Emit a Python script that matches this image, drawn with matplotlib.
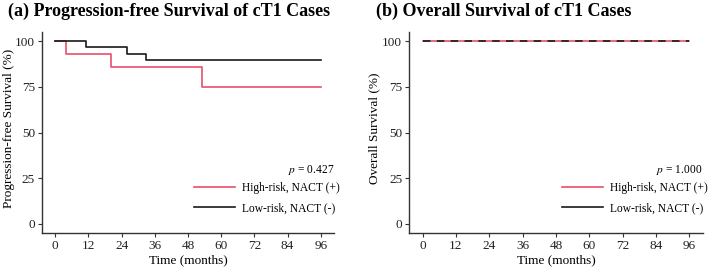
import matplotlib
matplotlib.use("Agg")
import matplotlib.pyplot as plt

# =========================
# DANE
# =========================
pfs_high_t = [0, 4, 20, 53, 96]
pfs_high_s = [100, 92.9, 85.7, 75.0, 75.0]
pfs_low_t = [0, 11, 26, 33, 96]
pfs_low_s = [100, 96.6, 93.1, 89.7, 89.7]

os_high_t = [0, 96]
os_high_s = [100, 100]
os_low_t = [0, 96]
os_low_s = [100, 100]

x_ticks = [0, 12, 24, 36, 48, 60, 72, 84, 96]
y_ticks = [0, 25, 50, 75, 100]

labels = ["High-risk, NACT (+)", "Low-risk, NACT (-)"]
p_values = ["0.427", "1.000"]
titles = ["(a) Progression-free Survival of cT1 Cases",
          "(b) Overall Survival of cT1 Cases"]
y_labels = ["Progression-free Survival (%)", "Overall Survival (%)"]

RED = "#E8506C"
BLACK = "#1a1a1a"

plt.rcParams["font.family"] = ["Liberation Serif", "DejaVu Serif"]
plt.rcParams["mathtext.fontset"] = "stix"

fig = plt.figure(figsize=(7.08, 2.70), dpi=100)
ax_a = fig.add_axes([0.0593, 0.137, 0.4124, 0.744])
ax_b = fig.add_axes([0.578, 0.137, 0.4146, 0.744])


def style(ax, ylab, title, pval, title_x, ylab_x):
    ax.set_xlim(-4.8, 100.8)
    ax.set_ylim(-5, 105)
    ax.set_xticks(x_ticks)
    ax.set_yticks(y_ticks)
    for s in ["top", "right"]:
        ax.spines[s].set_visible(False)
    for s in ["left", "bottom"]:
        ax.spines[s].set_color("#333333")
        ax.spines[s].set_linewidth(1.0)
    ax.tick_params(length=3, width=0.8, color="#333333", labelsize=9.5,
                   labelcolor="#222222", pad=2)
    ax.set_xlabel("Time (months)", fontsize=9.5, labelpad=2)
    ax.set_ylabel(ylab, fontsize=9.5)
    ax.yaxis.set_label_coords(ylab_x, 0.52)
    fig.text(title_x, 0.99, title, fontsize=13, fontweight="bold",
             ha="left", va="top")
    ax.text(1.0, 0.315, "$p$ = " + pval, transform=ax.transAxes,
            fontsize=8.3, ha="right", va="center")
    leg = ax.legend(loc="upper left", bbox_to_anchor=(0.52, 0.255),
                    frameon=False, fontsize=8.3, handlelength=3.6,
                    handletextpad=0.6, labelspacing=0.75, borderpad=0,
                    borderaxespad=0)
    return leg


# panel (a)
ax_a.step(pfs_high_t, pfs_high_s, where="post", color=RED, lw=1.2,
          label=labels[0])
ax_a.step(pfs_low_t, pfs_low_s, where="post", color=BLACK, lw=1.2,
          label=labels[1])
style(ax_a, y_labels[0], titles[0], p_values[0], 0.011, -0.092)

# panel (b)
ax_b.step(os_high_t, os_high_s, where="post", color=RED, lw=1.2,
          label=labels[0])
ax_b.step(os_low_t, os_low_s, where="post", color=BLACK, lw=1.2,
          dashes=(4.5, 3.8), label=labels[1])
leg_b = style(ax_b, y_labels[1], titles[1], p_values[1], 0.531, -0.097)
leg_b.get_lines()[1].set_linestyle("-")

fig.savefig("out.png", dpi=100)
